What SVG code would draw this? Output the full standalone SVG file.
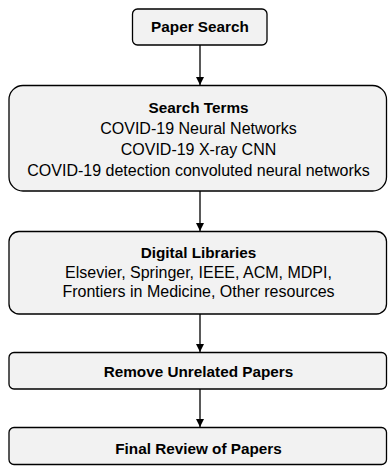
<svg xmlns="http://www.w3.org/2000/svg" width="388" height="466" viewBox="0 0 388 466">
  <style>
    .box { fill: #f2f2f2; stroke: #000; stroke-width: 1.3; }
    .t { font-family: "Liberation Sans", Arial, sans-serif; font-size: 16px; fill: #000; text-anchor: middle; }
    .b { font-weight: bold; font-size: 15.3px; }
    .edge { stroke: #000; stroke-width: 1.3; fill: none; marker-end: url(#arrow); }
  </style>
  <defs>
    <marker id="arrow" markerWidth="8" markerHeight="9" refX="8" refY="4" orient="auto" markerUnits="userSpaceOnUse">
      <path d="M0,0 L8,4 L0,8 Z" fill="#000"/>
    </marker>
  </defs>
  <rect width="388" height="466" fill="#fff"/>

  <g id="connectors">
    <line class="edge" x1="200" y1="45" x2="200" y2="85"/>
    <line class="edge" x1="200" y1="191" x2="200" y2="231"/>
    <line class="edge" x1="200" y1="314" x2="200" y2="352"/>
    <line class="edge" x1="200" y1="389" x2="200" y2="427"/>
  </g>

  <g id="paper-search">
    <rect class="box" x="132.5" y="9" width="134.5" height="36" rx="5"/>
    <text class="t b" x="200" y="32">Paper Search</text>
  </g>

  <g id="search-terms">
    <rect class="box" x="9" y="85.5" width="377.5" height="105.5" rx="14"/>
    <text class="t b" x="198.5" y="113">Search Terms</text>
    <text class="t" x="198.5" y="134">COVID-19 Neural Networks</text>
    <text class="t" x="198.5" y="155">COVID-19 X-ray CNN</text>
    <text class="t" x="198.5" y="176">COVID-19 detection convoluted neural networks</text>
  </g>

  <g id="digital-libraries">
    <rect class="box" x="9" y="231.5" width="377.5" height="82.5" rx="10"/>
    <text class="t b" x="198.5" y="258">Digital Libraries</text>
    <text class="t" x="198.5" y="278">Elsevier, Springer, IEEE, ACM, MDPI,</text>
    <text class="t" x="198.5" y="297">Frontiers in Medicine, Other resources</text>
  </g>

  <g id="remove-unrelated">
    <rect class="box" x="9" y="352.5" width="377.5" height="36.5" rx="5"/>
    <text class="t b" x="198.5" y="377">Remove Unrelated Papers</text>
  </g>

  <g id="final-review">
    <rect class="box" x="9" y="427.5" width="377.5" height="37" rx="5"/>
    <text class="t b" x="198.5" y="454">Final Review of Papers</text>
  </g>
</svg>
